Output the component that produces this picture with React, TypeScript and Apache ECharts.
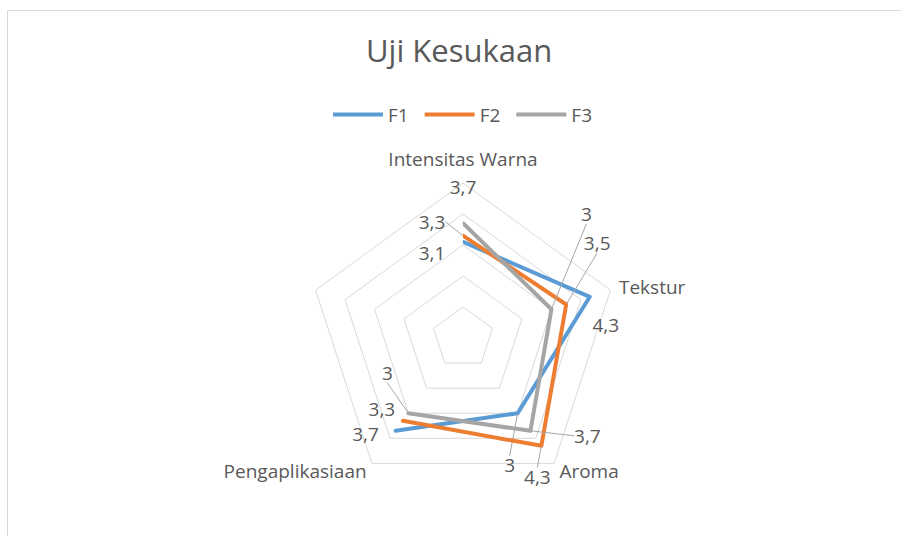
import React, { useEffect, useRef } from "react";
import * as echarts from "echarts";

const categories = ["Intensitas Warna", "Tekstur", "Aroma", "Pengaplikasiaan", ""];
const seriesNames = ["F1", "F2", "F3"];
const f1Values: (number | null)[] = [3.1, 4.3, 3, 3.7, null];
const f2Values: (number | null)[] = [3.3, 3.5, 4.3, 3.3, null];
const f3Values: (number | null)[] = [3.7, 3, 3.7, 3, null];
const axisMin = 0;
const axisMax = 5;
const axisSplits = 5;

// label displacement (px) relative to each point, per series / category
const labelShift: number[][][] = [
  [[-31, 11], [16, 28], [-8, 52], [-30, 3], [0, 0]],
  [[-31, -14], [31, -61], [-4, 31], [-21, -12], [0, 0]],
  [[0, -36], [35, -95], [57, 5], [-21, -40], [0, 0]],
];
const leader: boolean[][] = [
  [false, false, true, false, false],
  [true, true, true, false, false],
  [false, true, true, true, false],
];

const colors = ["#5B9BD5", "#ED7D31", "#A5A5A5"];
const FONT = "'Open Sans', 'Noto Sans', sans-serif";

export default function App() {
  const ref = useRef<HTMLDivElement>(null);
  useEffect(() => {
    document.body.style.margin = "0";
    if (!ref.current) return;
    const chart = echarts.init(ref.current, undefined, { renderer: "svg" });
    const center = [463, 338];
    const radius = 155;
    const all = [f1Values, f2Values, f3Values];
    const fmt = (v: any) => String(v).replace(".", ",");
    // ECharts radar runs counter-clockwise; Excel runs clockwise
    const radarOrder = [categories[0], ...categories.slice(1).reverse()];
    chart.setOption({
      animation: false,
      backgroundColor: "#ffffff",
      title: {
        text: "Uji Kesukaan",
        left: 361,
        top: 29,
        textStyle: { fontFamily: FONT, fontSize: 31, fontWeight: "normal", color: "#595959" },
      },
      legend: {
        top: 100,
        left: 328,
        itemWidth: 50,
        itemHeight: 4,
        itemGap: 16,
        icon: "rect",
        data: seriesNames.map((n, i) => ({ name: n, itemStyle: { color: colors[i] } })),
        textStyle: { fontFamily: FONT, fontSize: 19, color: "#595959" },
      },
      graphic: [
        {
          type: "rect",
          shape: { x: 7.5, y: 10.5, width: 960, height: 620 },
          style: { fill: "none", stroke: "#d9d9d9", lineWidth: 1 },
          silent: true,
        },
      ],
      radar: {
        center,
        radius,
        startAngle: 90,
        shape: "polygon",
        splitNumber: axisSplits,
        indicator: radarOrder.map((c) => ({ name: c, min: axisMin, max: axisMax })),
        axisName: {
          fontFamily: FONT,
          fontSize: 19,
          color: "#595959",
          formatter: (name: string) => (name === categories[0] ? `{t|${name}}` : name),
          rich: {
            t: { fontFamily: FONT, fontSize: 19, color: "#595959", padding: [0, 0, 6, 0] },
          },
        },
        nameGap: 9,
        axisLine: { show: false },
        axisTick: { show: false },
        axisLabel: { show: false },
        splitArea: { show: false },
        splitLine: { lineStyle: { color: "#d9d9d9", width: 1 } },
      },
      polar: { center, radius },
      angleAxis: {
        type: "category",
        data: categories,
        boundaryGap: false,
        startAngle: 90,
        clockwise: true,
        show: false,
      },
      radiusAxis: { type: "value", min: axisMin, max: axisMax, show: false },
      series: all.map((vals, si) => ({
        name: seriesNames[si],
        type: "line",
        coordinateSystem: "polar",
        symbol: "circle",
        symbolSize: 1,
        connectNulls: false,
        itemStyle: { color: colors[si] },
        lineStyle: { color: colors[si], width: 4, cap: "round", join: "round" },
        label: {
          show: true,
          position: "inside",
          fontFamily: FONT,
          fontSize: 19,
          color: "#595959",
          formatter: (p: any) => fmt(Array.isArray(p.value) ? p.value[0] : p.value),
        },
        labelLine: { show: false, lineStyle: { color: "#a6a6a6", width: 1 } },
        labelLayout: (p: any) => {
          const s = labelShift[si][p.dataIndex] || [0, 0];
          return { dx: s[0], dy: s[1] };
        },
        data: vals.map((v, ci) =>
          v == null
            ? "-"
            : {
                value: v,
                labelLine: { show: leader[si][ci], lineStyle: { color: "#a6a6a6", width: 1 } },
              }
        ),
        z: 3 + si,
      })),
    });
    return () => chart.dispose();
  }, []);
  return <div ref={ref} style={{ width: 901, height: 536 }} />;
}
